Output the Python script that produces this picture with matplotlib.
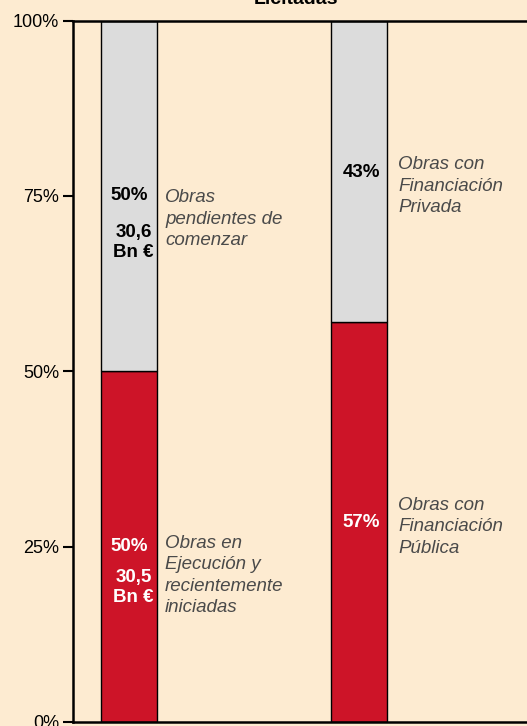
import matplotlib.pyplot as plt

plt.rcParams['font.family'] = ['Liberation Sans', 'DejaVu Sans']

# data
categories = ['Estado obras', 'Financiación']
bottom_vals = [50, 57]
top_vals = [50, 43]
bottom_pct = ['50%', '57%']
top_pct = ['50%', '43%']
bottom_amount = ['30,5\nBn €', '']
top_amount = ['30,6\nBn €', '']
bottom_names = ['Obras en\nEjecución y\nrecientemente\niniciadas', 'Obras con\nFinanciación\nPública']
top_names = ['Obras\npendientes de\ncomenzar', 'Obras con\nFinanciación\nPrivada']
yticks = [0, 25, 50, 75, 100]
ytick_labels = ['0%', '25%', '50%', '75%', '100%']

bg = '#FDEBD1'
red = '#CD1428'
grey = '#DCDCDC'
fs = 13.5

fig = plt.figure(figsize=(5.27, 7.26), dpi=100, facecolor=bg)
ax = fig.add_axes([73 / 527, 1 - 722 / 726, (540 - 73) / 527, (722 - 20.5) / 726])
ax.set_facecolor(bg)

x = list(range(len(categories)))
w = 0.2435
ax.bar(x, bottom_vals, width=w, color=red, edgecolor='black', linewidth=1)
ax.bar(x, top_vals, width=w, bottom=bottom_vals, color=grey, edgecolor='black', linewidth=1)

ax.set_xlim(-0.2435, 1.787)
ax.set_ylim(0, 100)
ax.set_yticks(yticks)
ax.set_yticklabels(ytick_labels, fontsize=13)
ax.set_xticks([])
ax.tick_params(axis='y', direction='out', length=7, width=1.5, pad=3)
ax.spines['right'].set_visible(False)
for s in ['left', 'top', 'bottom']:
    ax.spines[s].set_linewidth(1.8)

# labels inside bars
for i in x:
    if bottom_amount[i]:
        ax.text(i, 25, bottom_pct[i], ha='center', va='center', color='white', fontsize=fs, fontweight='bold')
        ax.text(i + 0.02, 19.2, bottom_amount[i], ha='center', va='center', color='white',
                fontsize=fs, fontweight='bold', linespacing=1.24)
        ax.text(i, 75, top_pct[i], ha='center', va='center', color='black', fontsize=fs, fontweight='bold')
        ax.text(i + 0.02, 68.4, top_amount[i], ha='center', va='center', color='black',
                fontsize=fs, fontweight='bold', linespacing=1.24)
    else:
        ax.text(i + 0.01, 28.4, bottom_pct[i], ha='center', va='center', color='white', fontsize=fs, fontweight='bold')
        ax.text(i + 0.01, 78.4, top_pct[i], ha='center', va='center', color='black', fontsize=fs, fontweight='bold')

# category names to the right of bars
name_y_bottom = [20.9, 27.8]
name_y_top = [71.7, 76.4]
name_dx = [0.157, 0.17]
for i in x:
    ax.text(i + name_dx[i], name_y_bottom[i], bottom_names[i], ha='left', va='center', color='#4a4a4a',
            fontsize=fs, style='italic', linespacing=1.33)
    ax.text(i + name_dx[i], name_y_top[i], top_names[i], ha='left', va='center', color='#4a4a4a',
            fontsize=fs, style='italic', linespacing=1.33)

fig.text(296 / 527, 1 - 4 / 726, 'Licitadas', ha='center', va='baseline', fontsize=14, fontweight='bold')

fig.savefig('out.png', dpi=100, facecolor=bg)
